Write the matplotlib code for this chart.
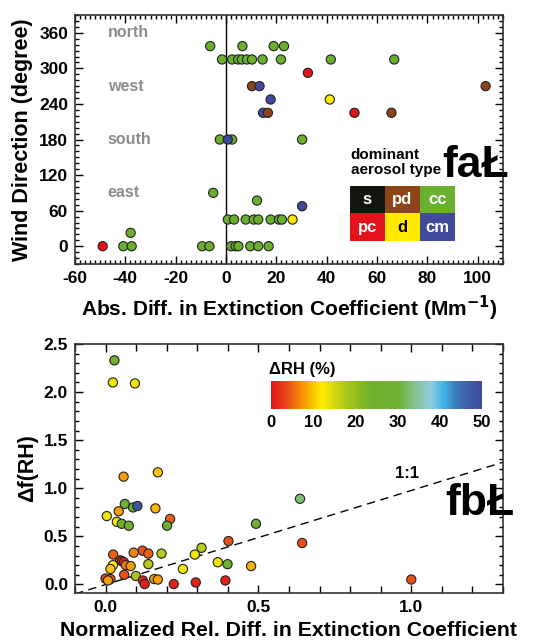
import numpy as np
import matplotlib.pyplot as plt
from matplotlib.colors import LinearSegmentedColormap, Normalize
from matplotlib.ticker import MultipleLocator
from matplotlib.patches import Rectangle

plt.rcParams['font.family'] = ['Liberation Sans', 'DejaVu Sans']
plt.rcParams['font.weight'] = 'bold'
plt.rcParams['axes.labelweight'] = 'bold'
plt.rcParams['mathtext.default'] = 'bf'
plt.rcParams['axes.unicode_minus'] = False

# ---- panel a: wind direction vs abs. diff ----
type_names = ['s', 'pd', 'cc', 'pc', 'd', 'cm']
type_colors = ['#16140f', '#8b4517', '#6ab02e', '#e3121b', '#ffe900', '#3f4a9b']

abs_diff = [-6.3, 6.5, 18.9, 23.0,
            -1.6, 2.4, 4.8, 6.3, 8.3, 10.3, 14.5, 21.8, 41.6, 66.8,
            32.5,
            10.3, 13.3, 103.1,
            17.7, 41.2,
            14.7, 16.6, 51.0, 65.7,
            -2.5, 2.4, 0.7, 30.2,
            -5.1, 12.3, 30.2,
            0.7, 3.2, 7.8, 11.0, 12.8, 17.7, 21.0, 22.2, 26.4,
            -37.9,
            -49.0, -40.8, -37.5, -9.5, -6.6, 2.0, 3.8, 4.9, 9.6, 12.8, 16.9]
wind_dir = [337.5] * 4 + [315] * 10 + [292.5] + [270] * 3 + [247.5] * 2 + [225] * 4 + \
           [180] * 4 + [90, 77, 67.5] + [45] * 9 + [22.5] + [0] * 11
aer_type = ['cc'] * 4 + ['cc'] * 10 + ['pc'] + ['pd', 'cm', 'pd'] + ['cm', 'd'] + \
           ['cm', 'pd', 'pc', 'pd'] + ['cc', 'cc', 'cm', 'cc'] + ['cc', 'cc', 'cm'] + \
           ['cc'] * 8 + ['d'] + ['cc'] + ['pc'] + ['cc'] * 10

# ---- panel b: delta f(RH) vs normalized rel. diff ----
norm_rel_diff = [0.029, 0.024, 0.096, 0.059, 0.171, 0.063, 0.090, 0.104, 0.043, 0.004,
                 0.037, 0.053, 0.076, 0.163, 0.211, 0.201, 0.636, 0.492, 0.402, 0.643,
                 0.314, 0.292, 0.367, 0.399, 0.476, 0.253, 0.223, 0.295, 0.392, 1.0,
                 0.025, 0.121, 0.092, 0.140, 0.183, 0.140, 0.048, 0.054, 0.060, 0.066,
                 0.082, 0.024, 0.016, 0.061, 0.099, 0.0, 0.016, 0.008, 0.122, 0.128,
                 0.159, 0.171]
delta_frh = [2.33, 2.10, 2.09, 1.12, 1.165, 0.836, 0.80, 0.815, 0.76, 0.71,
             0.65, 0.63, 0.61, 0.79, 0.68, 0.61, 0.89, 0.63, 0.45, 0.43,
             0.38, 0.31, 0.23, 0.21, 0.19, 0.16, 0.003, 0.02, 0.04, 0.05,
             0.31, 0.35, 0.33, 0.32, 0.32, 0.21, 0.25, 0.24, 0.23, 0.20,
             0.19, 0.20, 0.16, 0.10, 0.087, 0.06, 0.055, 0.04, 0.04, 0.003,
             0.055, 0.05]
delta_rh = [27, 13, 13, 8, 10, 27, 27, 48, 8, 13,
            12, 27, 27, 9, 5, 27, 33, 27, 4, 4,
            17, 13, 13, 25, 9, 13, 1, 1, 1, 4,
            5, 4, 7, 5, 17, 17, 2, 3, 1, 6,
            8, 12, 10, 4, 18, 3, 4, 8, 1, 1,
            8, 8]

cmap = LinearSegmentedColormap.from_list('rh', [
    (0.00, '#e3131b'), (0.08, '#e8501a'), (0.16, '#f7a000'), (0.24, '#ffec00'),
    (0.36, '#a8c41a'), (0.48, '#6db12e'), (0.60, '#6db12e'), (0.68, '#86c08f'),
    (0.76, '#8ccde0'), (0.82, '#40b3ea'), (0.88, '#3f75b7'), (1.00, '#3c4a9a')])
norm = Normalize(0, 50)

fig = plt.figure(figsize=(5.34, 6.41), dpi=100)
ax1 = fig.add_axes([75 / 534, 1 - 264 / 641, 428 / 534, 249 / 641])
ax2 = fig.add_axes([75 / 534, 1 - 593 / 641, 428 / 534, 249 / 641])

for ax in (ax1, ax2):
    ax.tick_params(which='both', direction='in', top=True, right=True, width=1)
    ax.tick_params(which='major', length=6, labelsize=12.5, pad=5)
    ax.tick_params(which='minor', length=3)
    for s in ax.spines.values():
        s.set_linewidth(1.2)
        s.set_color('#333333')

col_map = dict(zip(type_names, type_colors))
ax1.axvline(0, color='black', lw=1)
ax1.scatter(abs_diff, wind_dir, c=[col_map[t] for t in aer_type], s=44,
            edgecolors='#222222', linewidths=0.8, zorder=3)
ax1.set_xlim(-60, 110)
ax1.set_ylim(-30, 390)
ax1.xaxis.set_major_locator(MultipleLocator(20))
ax1.xaxis.set_minor_locator(MultipleLocator(2))
ax1.yaxis.set_major_locator(MultipleLocator(60))
ax1.yaxis.set_minor_locator(MultipleLocator(10))
ax1.set_xlabel('Abs. Diff. in Extinction Coefficient (Mm$^{-1}$)', fontsize=15,
               fontweight='bold', labelpad=6)
ax1.set_ylabel('Wind Direction (degree)', fontsize=15.5, fontweight='bold', labelpad=4)

for label, yv in [('north', 360), ('west', 270), ('south', 180), ('east', 90)]:
    ax1.text(-47, yv, label, color='#8c8c8c', fontsize=11.5, fontweight='bold',
             va='center', ha='left')

ax1.text(49.5, 154, 'dominant', fontsize=11, fontweight='bold', va='center', ha='left')
ax1.text(49.5, 129, 'aerosol type', fontsize=11, fontweight='bold', va='center', ha='left')
bw, bh = 13.9, 47
for i, (name, col) in enumerate(zip(type_names, type_colors)):
    x0 = 49.2 + (i % 3) * bw
    y0 = 55.4 - (i // 3) * bh
    ax1.add_patch(Rectangle((x0, y0), bw, bh, facecolor=col, edgecolor='none', zorder=4))
    ax1.text(x0 + bw / 2, y0 + bh / 2, name, ha='center', va='center', fontsize=12,
             fontweight='bold', color='black' if name == 'd' else 'white', zorder=5)
fig.text(442 / 534, 1 - 177 / 641, 'faŁ', fontsize=32, fontweight='bold',
         ha='left', va='baseline')

for lab in ax1.get_xticklabels() + ax1.get_yticklabels():
    lab.set_fontweight('bold')

# panel b
ax2.plot([-0.1, 1.3], [-0.1, 1.27], ls=(0, (6, 4)), color='black', lw=1)
ax2.text(0.948, 1.15, '1:1', fontsize=12, fontweight='bold', ha='left', va='center')
ax2.scatter(norm_rel_diff, delta_frh, c=delta_rh, cmap=cmap, norm=norm, s=44,
            edgecolors='#222222', linewidths=0.8, zorder=3)
ax2.set_xlim(-0.1, 1.3)
ax2.set_ylim(-0.09, 2.5)
ax2.xaxis.set_major_locator(MultipleLocator(0.5))
ax2.xaxis.set_minor_locator(MultipleLocator(0.1))
ax2.yaxis.set_major_locator(MultipleLocator(0.5))
ax2.yaxis.set_minor_locator(MultipleLocator(0.1))
ax2.xaxis.set_major_formatter(lambda v, p: f'{v:.1f}')
ax2.yaxis.set_major_formatter(lambda v, p: f'{v:.1f}')
ax2.tick_params(axis='x', which='minor', length=5)
ax2.set_xlabel('Normalized Rel. Diff. in Extinction Coefficient', fontsize=15.3,
               fontweight='bold', labelpad=4)
ax2.set_ylabel('Δf(RH)', fontsize=15.5, fontweight='bold', labelpad=4)

cax = fig.add_axes([271 / 534, 1 - 409 / 641, 211 / 534, 28 / 641])
cb = fig.colorbar(plt.cm.ScalarMappable(norm=norm, cmap=cmap), cax=cax, orientation='horizontal')
cb.outline.set_visible(False)
cb.set_ticks([0, 10, 20, 30, 40, 50])
cax.tick_params(length=0, labelsize=12, pad=4)
cax.set_title('ΔRH (%)', fontsize=12, fontweight='bold', loc='left', pad=5, x=-0.01)
fig.text(445 / 534, 1 - 515 / 641, 'fbŁ', fontsize=32, fontweight='bold',
         ha='left', va='baseline')

fig.canvas.draw()
for a in (ax1, ax2, cax):
    for lab in a.get_xticklabels() + a.get_yticklabels():
        lab.set_fontweight('bold')

fig.savefig('out.png', dpi=100)
